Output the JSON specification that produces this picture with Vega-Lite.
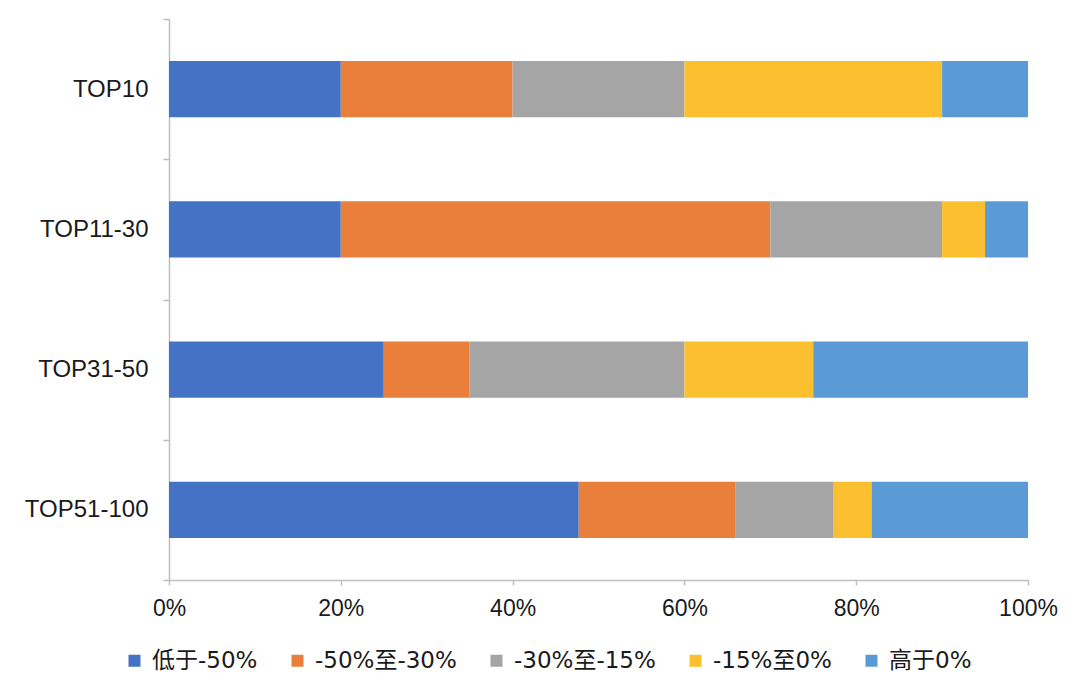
{
  "$schema": "https://vega.github.io/schema/vega-lite/v6.json",
  "autosize": {"type": "none"},
  "width": 859,
  "height": 561,
  "padding": {"left": 169, "top": 19, "right": 52, "bottom": 113},
  "background": "white",
  "config": {
    "font": "Liberation Sans, Noto Sans CJK SC",
    "view": {"stroke": null}
  },
  "data": {
    "values": [
      {"group": "TOP10", "range": "低于-50%", "order": 1, "value": 20},
      {"group": "TOP10", "range": "-50%至-30%", "order": 2, "value": 20},
      {"group": "TOP10", "range": "-30%至-15%", "order": 3, "value": 20},
      {"group": "TOP10", "range": "-15%至0%", "order": 4, "value": 30},
      {"group": "TOP10", "range": "高于0%", "order": 5, "value": 10},
      {"group": "TOP11-30", "range": "低于-50%", "order": 1, "value": 20},
      {"group": "TOP11-30", "range": "-50%至-30%", "order": 2, "value": 50},
      {"group": "TOP11-30", "range": "-30%至-15%", "order": 3, "value": 20},
      {"group": "TOP11-30", "range": "-15%至0%", "order": 4, "value": 5},
      {"group": "TOP11-30", "range": "高于0%", "order": 5, "value": 5},
      {"group": "TOP31-50", "range": "低于-50%", "order": 1, "value": 25},
      {"group": "TOP31-50", "range": "-50%至-30%", "order": 2, "value": 10},
      {"group": "TOP31-50", "range": "-30%至-15%", "order": 3, "value": 25},
      {"group": "TOP31-50", "range": "-15%至0%", "order": 4, "value": 15},
      {"group": "TOP31-50", "range": "高于0%", "order": 5, "value": 25},
      {"group": "TOP51-100", "range": "低于-50%", "order": 1, "value": 47.7},
      {"group": "TOP51-100", "range": "-50%至-30%", "order": 2, "value": 18.2},
      {"group": "TOP51-100", "range": "-30%至-15%", "order": 3, "value": 11.4},
      {"group": "TOP51-100", "range": "-15%至0%", "order": 4, "value": 4.5},
      {"group": "TOP51-100", "range": "高于0%", "order": 5, "value": 18.2}
    ]
  },
  "mark": {"type": "bar", "height": {"band": 0.4}},
  "encoding": {
    "y": {
      "field": "group",
      "type": "nominal",
      "sort": ["TOP10", "TOP11-30", "TOP31-50", "TOP51-100"],
      "scale": {"paddingInner": 0, "paddingOuter": 0},
      "axis": {
        "title": null,
        "tickBand": "extent",
        "domainColor": "#BFBFBF",
        "domainWidth": 1.5,
        "tickColor": "#BFBFBF",
        "tickWidth": 1.5,
        "tickSize": 6,
        "labelFontSize": 24,
        "labelColor": "#1a1a1a",
        "labelPadding": 15
      }
    },
    "x": {
      "field": "value",
      "type": "quantitative",
      "stack": "zero",
      "scale": {"domain": [0, 100], "nice": false},
      "axis": {
        "title": null,
        "values": [0, 20, 40, 60, 80, 100],
        "labelExpr": "datum.value + '%'",
        "grid": false,
        "domainColor": "#BFBFBF",
        "domainWidth": 1.5,
        "tickColor": "#BFBFBF",
        "tickWidth": 1.5,
        "tickSize": 5,
        "labelFontSize": 23,
        "labelColor": "#1a1a1a",
        "labelPadding": 12,
        "labelFlush": false
      }
    },
    "order": {"field": "order", "type": "quantitative"},
    "color": {
      "field": "range",
      "type": "nominal",
      "scale": {
        "domain": ["低于-50%", "-50%至-30%", "-30%至-15%", "-15%至0%", "高于0%"],
        "range": ["#4472C4", "#E97F3A", "#A5A5A5", "#FBBF2F", "#5B9BD5"]
      },
      "legend": {
        "title": null,
        "orient": "none",
        "direction": "horizontal",
        "legendX": -46,
        "legendY": 630,
        "symbolType": "square",
        "symbolSize": 144,
        "symbolStrokeWidth": 0,
        "labelFont": "DejaVu Sans, Noto Sans CJK SC",
        "labelFontSize": 23,
        "labelColor": "#1a1a1a",
        "labelOffset": 6,
        "columnPadding": 28,
        "labelLimit": 300
      }
    }
  }
}
